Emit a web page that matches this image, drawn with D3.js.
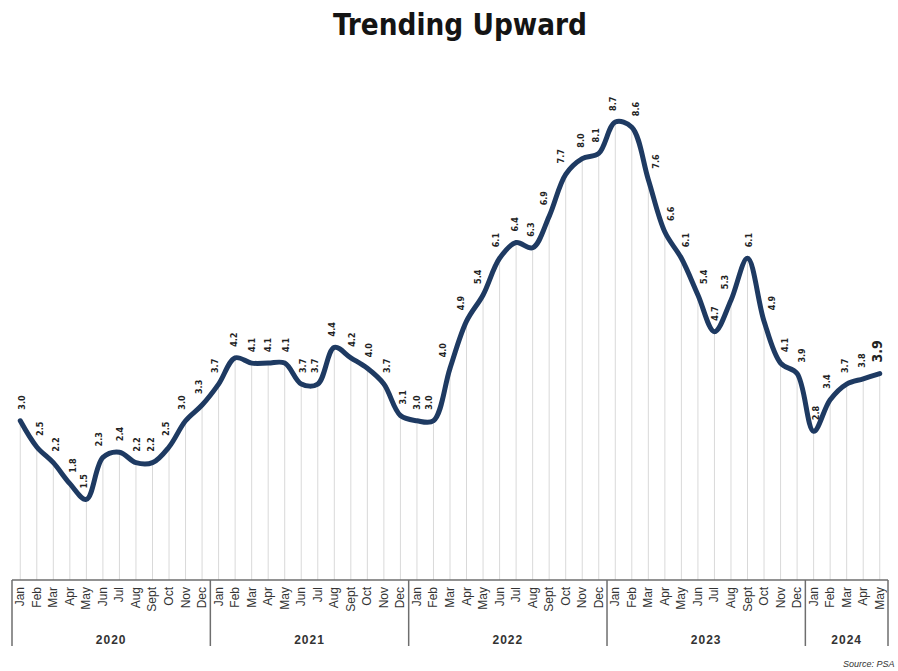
<!DOCTYPE html>
<html>
<head>
<meta charset="utf-8">
<script src="https://cdn.jsdelivr.net/npm/d3@7"></script>
<style>
  body { margin: 0; background: #fff; }
  svg { display: block; }
</style>
</head>
<body>
<div id="chart"></div>
<script>
// ---- data ----
var years = ["2020", "2021", "2022", "2023", "2024"];
var monthNames = ["Jan", "Feb", "Mar", "Apr", "May", "Jun", "Jul", "Aug", "Sept", "Oct", "Nov", "Dec"];
var rate2020 = [3.0, 2.5, 2.2, 1.8, 1.5, 2.3, 2.4, 2.2, 2.2, 2.5, 3.0, 3.3];
var rate2021 = [3.7, 4.2, 4.1, 4.1, 4.1, 3.7, 3.7, 4.4, 4.2, 4.0, 3.7, 3.1];
var rate2022 = [3.0, 3.0, 4.0, 4.9, 5.4, 6.1, 6.4, 6.3, 6.9, 7.7, 8.0, 8.1];
var rate2023 = [8.7, 8.6, 7.6, 6.6, 6.1, 5.4, 4.7, 5.3, 6.1, 4.9, 4.1, 3.9];
var rate2024 = [2.8, 3.4, 3.7, 3.8, 3.9];

var width = 898, height = 671;

// flatten into one list of points
var rows = [];
[rate2020, rate2021, rate2022, rate2023, rate2024].forEach(function (arr, yi) {
  arr.forEach(function (v, mi) {
    rows.push({ key: years[yi] + "-" + mi, year: years[yi], month: monthNames[mi], value: v });
  });
});

var svg = d3.select("#chart").append("svg")
  .attr("width", width)
  .attr("height", height);

// title
svg.append("text")
  .attr("x", 460).attr("y", 35)
  .attr("text-anchor", "middle")
  .attr("textLength", 254)
  .attr("lengthAdjust", "spacingAndGlyphs")
  .style("font-family", "'DejaVu Sans Condensed', 'DejaVu Sans', sans-serif")
  .style("font-weight", "bold")
  .style("font-size", "30px")
  .style("fill", "#141414")
  .text("Trending Upward");

// scales
var x = d3.scaleBand()
  .domain(rows.map(function (d) { return d.key; }))
  .range([12, 888])
  .padding(0);
var cx = function (d) { return x(d.key) + x.bandwidth() / 2; };

var y = d3.scaleLinear()
  .domain([0, 8.7])
  .range([578, 122]);

var axisY = 580;

// faint vertical drop lines
svg.append("g").selectAll("line")
  .data(rows)
  .enter().append("line")
  .attr("x1", cx).attr("x2", cx)
  .attr("y1", function (d) { return y(d.value); })
  .attr("y2", axisY)
  .attr("stroke", "#d9d9d9")
  .attr("stroke-width", 1);

// the line
var line = d3.line()
  .x(cx)
  .y(function (d) { return y(d.value); })
  .curve(d3.curveCatmullRom.alpha(0.5));

svg.append("path")
  .datum(rows)
  .attr("d", line)
  .attr("fill", "none")
  .attr("stroke", "#1e3a62")
  .attr("stroke-width", 5)
  .attr("stroke-linejoin", "round")
  .attr("stroke-linecap", "round");

// nudge labels away from the line: left on the way up, right on the way down
function slope(i) {
  var a = rows[Math.max(0, i - 1)].value, b = rows[Math.min(rows.length - 1, i + 1)].value;
  return (b - a) / 2;
}

// value labels (rotated)
svg.append("g").selectAll("text")
  .data(rows)
  .enter().append("text")
  .attr("transform", function (d, i) {
    var dx = Math.max(-7, Math.min(9, -8 * slope(i)));
    return "translate(" + (cx(d) + 3 + dx) + "," + (y(d.value) - 11) + ") rotate(-90)";
  })
  .style("font-family", "'DejaVu Sans Condensed', 'Liberation Sans', sans-serif")
  .style("font-weight", "bold")
  .style("font-size", function (d, i) { return i === rows.length - 1 ? "14px" : "9px"; })
  .style("fill", "#222")
  .text(function (d) { return d3.format(".1f")(d.value); });

// axis: top rule
var axis = svg.append("g");
axis.append("line")
  .attr("x1", x.range()[0]).attr("x2", x.range()[1])
  .attr("y1", axisY).attr("y2", axisY)
  .attr("stroke", "#6e6e6e").attr("stroke-width", 1.5);

// month labels
axis.selectAll(".month")
  .data(rows)
  .enter().append("text")
  .attr("class", "month")
  .attr("transform", function (d) { return "translate(" + (cx(d) + 4) + "," + (axisY + 7) + ") rotate(-90)"; })
  .attr("text-anchor", "end")
  .style("font-family", "'Liberation Sans', Arial, sans-serif")
  .style("font-size", "12px")
  .style("fill", "#333")
  .text(function (d) { return d.month; });

// year groups and separators
var yearGroups = years.map(function (yr) {
  var r = rows.filter(function (d) { return d.year === yr; });
  return { year: yr, x0: x(r[0].key), x1: x(r[r.length - 1].key) + x.bandwidth() };
});

var seps = [x.range()[0]].concat(yearGroups.map(function (g) { return g.x1; }));
axis.selectAll(".sep")
  .data(seps)
  .enter().append("line")
  .attr("class", "sep")
  .attr("x1", function (d) { return d; }).attr("x2", function (d) { return d; })
  .attr("y1", axisY).attr("y2", 646)
  .attr("stroke", "#6e6e6e").attr("stroke-width", 1.5);

axis.selectAll(".year")
  .data(yearGroups)
  .enter().append("text")
  .attr("class", "year")
  .attr("x", function (g) { return (g.x0 + g.x1) / 2; })
  .attr("y", 644)
  .attr("text-anchor", "middle")
  .style("font-family", "'Liberation Sans', Arial, sans-serif")
  .style("font-weight", "bold")
  .style("font-size", "12px")
  .style("letter-spacing", "1px")
  .style("fill", "#333")
  .text(function (g) { return g.year; });

// source
svg.append("text")
  .attr("x", 843).attr("y", 667)
  .style("font-family", "'Liberation Sans', Arial, sans-serif")
  .style("font-style", "italic")
  .style("font-size", "9px")
  .style("fill", "#333")
  .text("Source: PSA");
</script>
</body>
</html>
